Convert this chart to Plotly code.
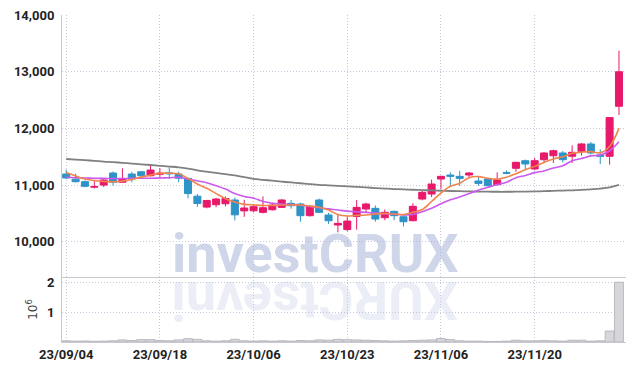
import plotly.graph_objects as go

dates = ["23/09/04", "23/09/05", "23/09/06", "23/09/07", "23/09/08",
         "23/09/11", "23/09/12", "23/09/13", "23/09/14", "23/09/15",
         "23/09/18", "23/09/19", "23/09/20", "23/09/21", "23/09/22",
         "23/09/25", "23/09/26", "23/09/27", "23/10/04", "23/10/05",
         "23/10/06", "23/10/10", "23/10/11", "23/10/12", "23/10/13",
         "23/10/16", "23/10/17", "23/10/18", "23/10/19", "23/10/20",
         "23/10/23", "23/10/24", "23/10/25", "23/10/26", "23/10/27",
         "23/10/30", "23/10/31", "23/11/01", "23/11/02", "23/11/03",
         "23/11/06", "23/11/07", "23/11/08", "23/11/09", "23/11/10",
         "23/11/13", "23/11/14", "23/11/15", "23/11/16", "23/11/17",
         "23/11/20", "23/11/21", "23/11/22", "23/11/23", "23/11/24",
         "23/11/27", "23/11/28", "23/11/29", "23/11/30", "23/12/01"]

opens = [11195, 11105, 11060, 10962, 11000, 11213, 11050, 11195, 11235, 11165,
         11190, 11215, 11195, 11118, 10805, 10612, 10654, 10670, 10737, 10545,
         10546, 10519, 10565, 10607, 10678, 10666, 10460, 10737, 10472, 10296,
         10215, 10448, 10578, 10590, 10425, 10537, 10442, 10372, 10754, 10842,
         11107, 11177, 11154, 11178, 11072, 11107, 11007, 11220, 11296, 11430,
         11284, 11448, 11517, 11566, 11508, 11595, 11725, 11530, 11508, 12390]
highs = [11270, 11200, 11085, 11070, 11110, 11240, 11296, 11235, 11245, 11354,
         11300, 11310, 11235, 11130, 10842, 10740, 10775, 10800, 10780, 10740,
         10660, 10800, 10690, 10750, 10737, 10690, 10650, 10760, 10510, 10472,
         10448, 10737, 10690, 10640, 10570, 10550, 10460, 10680, 10907, 11097,
         11165, 11225, 11250, 11225, 11150, 11120, 11225, 11260, 11410, 11450,
         11480, 11580, 11625, 11600, 11700, 11740, 11760, 11630, 12200, 13370]
lows = [11105, 11045, 10960, 10940, 10965, 10990, 11040, 11050, 11150, 11150,
        11110, 11110, 11050, 10767, 10615, 10590, 10610, 10625, 10375, 10440,
        10520, 10500, 10550, 10595, 10583, 10354, 10445, 10505, 10315, 10166,
        10185, 10213, 10520, 10355, 10380, 10380, 10272, 10360, 10730, 10790,
        10931, 10990, 10990, 11130, 10990, 10985, 10990, 11190, 11233, 11275,
        11260, 11390, 11390, 11400, 11390, 11520, 11540, 11370, 11360, 12236]
closes = [11125, 11060, 10978, 10975, 11090, 11050, 11107, 11107, 11165, 11265,
          11210, 11200, 11120, 10850, 10675, 10728, 10754, 10763, 10475, 10596,
          10619, 10601, 10648, 10737, 10636, 10460, 10625, 10519, 10371, 10325,
          10365, 10607, 10666, 10401, 10520, 10460, 10354, 10625, 10872, 11019,
          11154, 11155, 11118, 11213, 11030, 10989, 11090, 11210, 11402, 11372,
          11430, 11566, 11606, 11448, 11578, 11725, 11566, 11508, 12190, 12999]

ma5 = [11220, 11160, 11107, 11080, 11066, 11060, 11070, 11100, 11140, 11178,
       11207, 11210, 11200, 11118, 11020, 10945, 10850, 10760, 10700, 10660,
       10650, 10640, 10640, 10648, 10650, 10648, 10630, 10610, 10560, 10480,
       10455, 10465, 10472, 10490, 10501, 10490, 10480, 10519, 10570, 10710,
       10860, 10980, 11030, 11130, 11150, 11120, 11105, 11140, 11200, 11270,
       11330, 11400, 11460, 11500, 11560, 11580, 11590, 11570, 11680, 12000]
ma10 = [11137, 11130, 11125, 11120, 11118, 11115, 11115, 11118, 11120, 11120,
        11125, 11130, 11137, 11107, 11075, 11040, 10990, 10930, 10850, 10800,
        10770, 10710, 10680, 10665, 10655, 10645, 10625, 10600, 10580, 10560,
        10540, 10530, 10518, 10505, 10495, 10488, 10475, 10480, 10530, 10590,
        10670, 10740, 10790, 10850, 10910, 10960, 11010, 11050, 11130, 11170,
        11220, 11250, 11300, 11340, 11430, 11470, 11515, 11530, 11606, 11765]
ma60 = [11460, 11450, 11440, 11428, 11415, 11405, 11393, 11380, 11367, 11354,
        11340, 11327, 11313, 11290, 11260, 11237, 11215, 11192, 11170, 11140,
        11110, 11093, 11077, 11060, 11046, 11032, 11018, 11005, 10996, 10987,
        10978, 10968, 10958, 10948, 10939, 10930, 10924, 10918, 10912, 10906,
        10900, 10896, 10892, 10888, 10885, 10883, 10882, 10882, 10883, 10885,
        10888, 10893, 10898, 10903, 10908, 10915, 10925, 10938, 10960, 11005]

volumes = [40000, 30000, 35000, 25000, 30000, 40000, 70000, 50000, 80000, 80000,
           50000, 40000, 70000, 110000, 90000, 40000, 30000, 40000, 90000, 40000,
           30000, 40000, 30000, 40000, 30000, 50000, 40000, 70000, 60000, 90000,
           80000, 70000, 60000, 50000, 40000, 30000, 40000, 50000, 60000, 70000,
           120000, 80000, 40000, 30000, 30000, 20000, 20000, 30000, 60000, 40000,
           40000, 50000, 40000, 30000, 60000, 60000, 30000, 40000, 370000, 2020000]

price_ticks = [10000, 11000, 12000, 13000, 14000]
vol_ticks = [1000000, 2000000]
vol_tick_text = ["1", "2"]
date_ticks = ["23/09/04", "23/09/18", "23/10/06", "23/10/23", "23/11/06", "23/11/20"]

UP = "#E8196B"
DOWN = "#2E93C7"
GRID = "#C6C8DE"
AXLINE = "#C8C8D0"
FONT = "Roboto, sans-serif"
DOT = "1px,2px"

fig = go.Figure()

fig.add_trace(go.Scatter(x=dates, y=ma60, mode="lines", line=dict(color="#808080", width=1.8, shape="spline"),
                         xaxis="x", yaxis="y", showlegend=False, hoverinfo="skip"))
fig.add_trace(go.Candlestick(x=dates, open=opens, high=highs, low=lows, close=closes,
                             increasing=dict(line=dict(color=UP, width=1), fillcolor=UP),
                             decreasing=dict(line=dict(color=DOWN, width=1), fillcolor=DOWN),
                             xaxis="x", yaxis="y", showlegend=False))
fig.add_trace(go.Scatter(x=dates, y=ma10, mode="lines", line=dict(color="#CB5AEC", width=1.6, shape="spline"),
                         xaxis="x", yaxis="y", showlegend=False, hoverinfo="skip"))
fig.add_trace(go.Scatter(x=dates, y=ma5, mode="lines", line=dict(color="#F0844C", width=1.6, shape="spline"),
                         xaxis="x", yaxis="y", showlegend=False, hoverinfo="skip"))
fig.add_trace(go.Bar(x=dates, y=volumes, marker=dict(color="#D6D6DB", line=dict(color="#B8B8C0", width=1)),
                     xaxis="x2", yaxis="y2", showlegend=False))

split = 0.199
xr = [-0.45, 59.75]
common_x = dict(type="category", range=xr, showgrid=True, gridcolor=GRID, griddash=DOT, gridwidth=1,
                tickvals=date_ticks, showline=True, linecolor=AXLINE, linewidth=1, zeroline=False,
                rangeslider=dict(visible=False), ticks="", automargin=False, ticklabeloverflow="allow")
tick_font = dict(family=FONT, size=13, color="#222222", weight="bold")
# the page body keeps an 8px default margin, so the figure is 8px smaller
fig.update_layout(
    width=626, height=363,
    margin=dict(l=54, r=8, t=7, b=29),
    paper_bgcolor="white", plot_bgcolor="white",
    boxgap=0.25, boxgroupgap=0,
    bargap=0.06,
    xaxis=dict(**common_x, anchor="y", showticklabels=False),
    xaxis2=dict(**common_x, anchor="y2", matches="x", showticklabels=True, tickfont=tick_font),
    yaxis=dict(domain=[split, 1], range=[9380, 14000], tickvals=price_ticks, tickformat=",d",
               showgrid=True, gridcolor=GRID, griddash=DOT, showline=True, linecolor=AXLINE,
               mirror=True, zeroline=False, ticks="", automargin=False, ticklabelstandoff=4,
               ticklabeloverflow="allow", tickfont=tick_font),
    yaxis2=dict(domain=[0, split], range=[0, 2200000], tickvals=vol_ticks, ticktext=vol_tick_text,
                showgrid=True, gridcolor=GRID, griddash=DOT, showline=True, linecolor=AXLINE,
                mirror=True, zeroline=False, ticks="", automargin=False, ticklabelstandoff=4,
                ticklabeloverflow="allow", tickfont=tick_font,
                title=dict(text="10<sup>6</sup>", font=dict(family="DejaVu Sans", size=12, color="#444444"),
                           standoff=6)),
)

fig.add_annotation(text="investCRUX", xref="paper", yref="paper", x=0.4486, y=0.167,
                   xanchor="center", yanchor="bottom", showarrow=False,
                   font=dict(family="Roboto", size=54, color="rgba(170,180,215,0.55)", weight="bold"))
fig.add_annotation(text="XURCtsevni", xref="paper", yref="paper", x=0.4486, y=0.230,
                   xanchor="center", yanchor="top", showarrow=False, textangle=180,
                   font=dict(family="Roboto", size=54, color="rgba(190,198,225,0.30)", weight="bold"))

fig.write_html("out.html")
